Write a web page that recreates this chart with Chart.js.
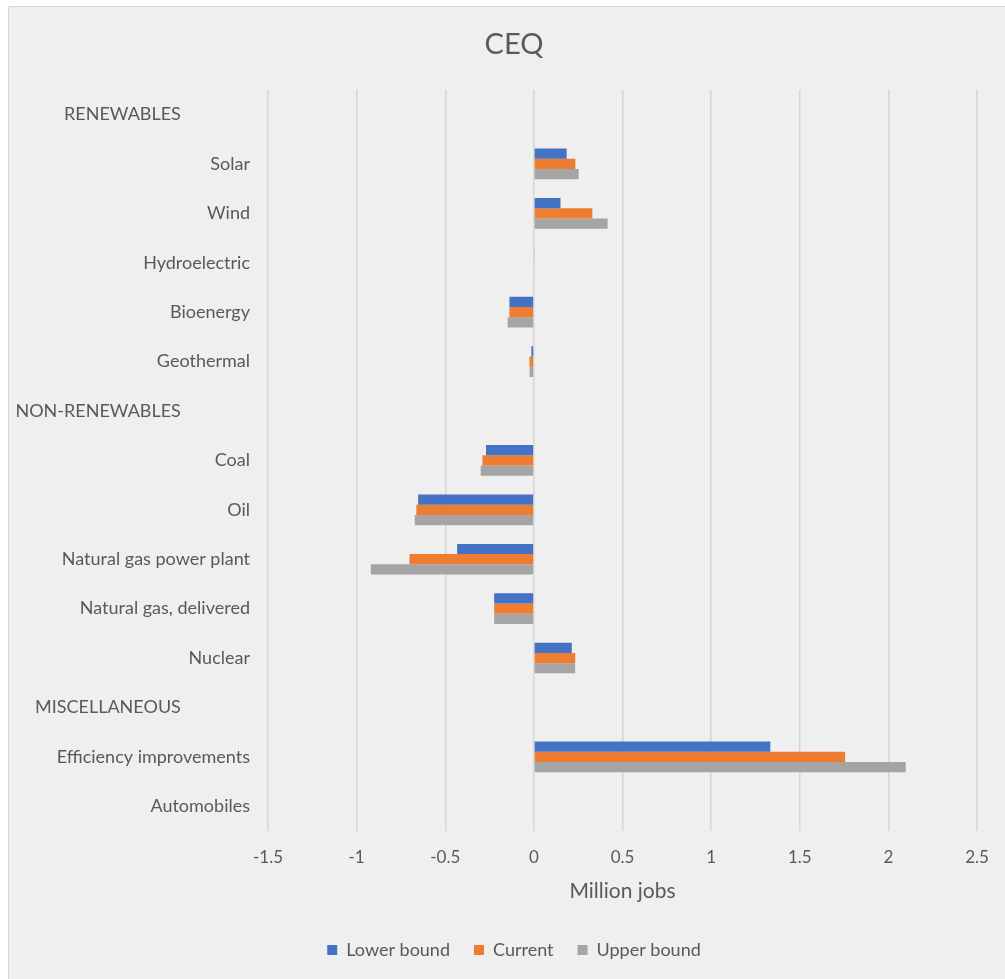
<!DOCTYPE html>
<html>
<head>
<meta charset="utf-8">
<script src="https://cdn.jsdelivr.net/npm/chart.js@4.4.1/dist/chart.umd.min.js"></script>
<style>
  html, body { margin: 0; padding: 0; background: #ffffff; overflow: hidden; }
  #frame {
    position: absolute; left: 8px; top: 6px; width: 1014px; height: 990px;
    background: #efefef; border-left: 1px solid #d6d6d6; border-top: 1px solid #d6d6d6;
  }
  #frame canvas { display: block; }
</style>
</head>
<body>
<div id="frame"><canvas id="chart" width="1014" height="990"></canvas></div>
<script>
// Job impact estimates by energy source (million jobs)
const categories = [
  'RENEWABLES', 'Solar', 'Wind', 'Hydroelectric', 'Bioenergy', 'Geothermal',
  'NON-RENEWABLES', 'Coal', 'Oil', 'Natural gas power plant', 'Natural gas, delivered', 'Nuclear',
  'MISCELLANEOUS', 'Efficiency improvements', 'Automobiles'
];
const groupHeaders = ['RENEWABLES', 'NON-RENEWABLES', 'MISCELLANEOUS'];

const lowerBound = [null, 0.185, 0.15, 0.005, -0.138, -0.014, null, -0.27, -0.653, -0.433, -0.224, 0.214, null, 1.334, null];
const current    = [null, 0.234, 0.33, 0.004, -0.138, -0.025, null, -0.29, -0.663, -0.702, -0.224, 0.233, null, 1.756, null];
const upperBound = [null, 0.253, 0.416, 0.004, -0.148, -0.024, null, -0.30, -0.672, -0.92, -0.224, 0.233, null, 2.098, null];

const xTicks = [-1.5, -1, -0.5, 0, 0.5, 1, 1.5, 2, 2.5];

const textColor = '#595959';
const fontFamily = 'Lato, "Open Sans", sans-serif';

// Title and legend are centred on the whole frame rather than on the space left of the right margin
const frameCentre = {
  id: 'frameCentre',
  afterLayout(chart) {
    const shift = 21;
    for (const box of [chart.titleBlock, chart.legend]) {
      if (box) { box.left += shift; box.right += shift; }
    }
  }
};

new Chart(document.getElementById('chart'), {
  type: 'bar',
  data: {
    labels: categories,
    datasets: [
      { label: 'Lower bound', data: lowerBound, backgroundColor: '#4472C4' },
      { label: 'Current', data: current, backgroundColor: '#ED7D31' },
      { label: 'Upper bound', data: upperBound, backgroundColor: '#A5A5A5' }
    ]
  },
  plugins: [frameCentre],
  options: {
    indexAxis: 'y',
    responsive: false,
    animation: false,
    datasets: { bar: { categoryPercentage: 0.62, barPercentage: 1.0, borderWidth: 0 } },
    layout: { padding: { left: 0, right: 46, top: 0, bottom: 28 } },
    plugins: {
      title: {
        display: true, text: 'CEQ', color: textColor,
        font: { family: fontFamily, size: 29, weight: 'normal' },
        padding: { top: 20, bottom: 28 }
      },
      legend: {
        position: 'bottom',
        labels: {
          color: textColor, boxWidth: 10, boxHeight: 10, padding: 24,
          font: { family: fontFamily, size: 18 }
        }
      },
      tooltip: { enabled: false }
    },
    scales: {
      x: {
        min: -1.5, max: 2.5,
        afterBuildTicks: (axis) => { axis.ticks = xTicks.map(v => ({ value: v })); },
        grid: { color: '#d6d6d6', lineWidth: 1.5, drawTicks: false },
        border: { display: false },
        ticks: {
          color: textColor, padding: 18,
          font: { family: fontFamily, size: 17, lineHeight: 1.0 },
          callback: (value) => String(value)
        },
        title: {
          display: true, text: 'Million jobs', color: textColor,
          font: { family: fontFamily, size: 21, lineHeight: 1.0 },
          padding: { top: -3, bottom: 15 }
        }
      },
      y: {
        grid: { display: false, drawTicks: false },
        border: { display: false },
        afterFit: (axis) => { axis.width = 259; },
        ticks: {
          color: textColor, padding: 18, autoSkip: false,
          font: { family: fontFamily, size: 18 },
          callback: function (value) {
            const label = this.getLabelForValue(value);
            return groupHeaders.includes(label) ? label + ' '.repeat(15) : label;
          }
        }
      }
    }
  }
});
</script>
</body>
</html>
